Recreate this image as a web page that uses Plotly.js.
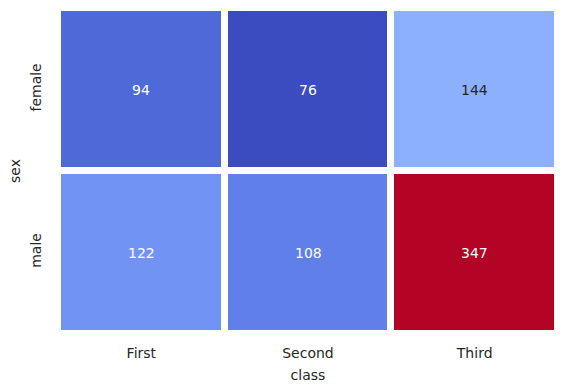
<!DOCTYPE html>
<html>
<head>
<meta charset="utf-8">
<script src="https://cdn.plot.ly/plotly-3.0.1.min.js"></script>
<style>html,body{margin:0;padding:0;background:#fff;}#chart{width:580px;height:390px;}</style>
</head>
<body>
<div id="chart"></div>
<script>
const classes = ["First", "Second", "Third"];
const sexes = ["female", "male"];
const female = [94, 76, 144];
const male = [122, 108, 347];

// matplotlib "coolwarm" colormap samples
const coolwarm = [
[0.0,[0.2298,0.2987,0.7537]],[0.03125,[0.2662,0.3531,0.8015]],[0.0625,[0.3039,0.4065,0.8450]],
[0.09375,[0.3428,0.4588,0.8837]],[0.125,[0.3830,0.5094,0.9174]],[0.15625,[0.4244,0.5581,0.9456]],
[0.1875,[0.4667,0.6046,0.9682]],[0.21875,[0.5096,0.6483,0.9848]],[0.25,[0.5530,0.6889,0.9954]],
[0.28125,[0.5963,0.7261,0.9998]],[0.3125,[0.6392,0.7596,0.9982]],[0.34375,[0.6813,0.7890,0.9904]],
[0.375,[0.7222,0.8140,0.9766]],[0.40625,[0.7615,0.8343,0.9569]],[0.4375,[0.7987,0.8498,0.9317]],
[0.46875,[0.8335,0.8602,0.9011]],[0.5,[0.8654,0.8654,0.8654]],[0.53125,[0.8978,0.8489,0.8209]],
[0.5625,[0.9241,0.8274,0.7745]],[0.59375,[0.9445,0.8009,0.7267]],[0.625,[0.9589,0.7698,0.6780]],
[0.65625,[0.9673,0.7341,0.6288]],[0.6875,[0.9700,0.6943,0.5794]],[0.71875,[0.9668,0.6504,0.5303]],
[0.75,[0.9580,0.6028,0.4818]],[0.78125,[0.9437,0.5518,0.4342]],[0.8125,[0.9239,0.4973,0.3880]],
[0.84375,[0.8990,0.4396,0.3432]],[0.875,[0.8692,0.3783,0.3003]],[0.90625,[0.8346,0.3129,0.2593]],
[0.9375,[0.7956,0.2413,0.2205]],[0.96875,[0.7525,0.1572,0.1841]],[1.0,[0.7057,0.0156,0.1502]]
];
const toRgb = c => `rgb(${Math.round(c[0]*255)},${Math.round(c[1]*255)},${Math.round(c[2]*255)})`;
const colorscale = coolwarm.map(s => [s[0], toRgb(s[1])]);

function sample(t){
  for(let i=1;i<coolwarm.length;i++){
    if(t<=coolwarm[i][0]){
      const a=coolwarm[i-1], b=coolwarm[i];
      const f=(t-a[0])/(b[0]-a[0]);
      return a[1].map((v,k)=>v+(b[1][k]-v)*f);
    }
  }
  return coolwarm[coolwarm.length-1][1];
}
function lum(c){
  const l = c.map(v => v<=0.03928 ? v/12.92 : Math.pow((v+0.055)/1.055,2.4));
  return 0.2126*l[0]+0.7152*l[1]+0.0722*l[2];
}

const z = [female, male];
const all = z.flat();
const zmin = Math.min(...all), zmax = Math.max(...all);
const FS = 14;
const FF = "DejaVu Sans";

const annotations = [];
z.forEach((row, i) => row.forEach((v, j) => {
  const c = sample((v - zmin) / (zmax - zmin));
  annotations.push({
    x: classes[j], y: sexes[i], text: String(v), showarrow: false,
    font: {family: FF, size: FS, color: lum(c) > 0.408 ? "#262626" : "#ffffff"}
  });
}));

const trace = {
  type: "heatmap", x: classes, y: sexes, z: z,
  colorscale: colorscale, zmin: zmin, zmax: zmax,
  showscale: false, xgap: 7, ygap: 7, hoverinfo: "skip"
};

const layout = {
  width: 580, height: 390,
  margin: {l: 58, r: 22, t: 8, b: 56, pad: 0},
  paper_bgcolor: "#fff", plot_bgcolor: "#fff",
  font: {family: FF, size: FS, color: "#262626"},
  xaxis: {
    type: "category", showgrid: false, zeroline: false, showline: false,
    ticks: "outside", ticklen: 6, tickcolor: "rgba(0,0,0,0)",
    tickfont: {family: FF, size: FS, color: "#262626"},
    title: {text: "class", standoff: 10, font: {family: FF, size: FS, color: "#262626"}}
  },
  yaxis: {
    type: "category", autorange: "reversed", showgrid: false, zeroline: false, showline: false,
    ticks: "outside", ticklen: 10, tickcolor: "rgba(0,0,0,0)", tickangle: -90,
    tickfont: {family: FF, size: FS, color: "#262626"},
    title: {text: "sex", standoff: 4, font: {family: FF, size: FS, color: "#262626"}}
  },
  annotations: annotations
};

Plotly.newPlot("chart", [trace], layout, {displayModeBar: false, staticPlot: true});
</script>
</body>
</html>
